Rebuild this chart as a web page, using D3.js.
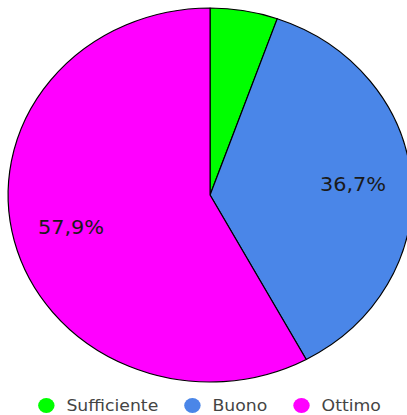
<!DOCTYPE html>
<html>
<head>
<meta charset="utf-8">
<script src="https://cdn.jsdelivr.net/npm/d3@7"></script>
<style>
  html, body { margin: 0; padding: 0; background: #fff; overflow: hidden; }
  svg { display: block; }
</style>
</head>
<body>
<svg id="chart" width="407" height="415"></svg>
<script>
const categories = ["Sufficiente", "Buono", "Ottimo"];
const values = [5.4, 36.7, 57.9];
const colors = ["#00ff00", "#4a86e8", "#ff00ff"];

const W = 407, H = 415;
const sx = 1.08;              // horizontal stretch of the original drawing
const IW = W / sx;            // internal width
const cx = 194.5, cy = 195, r = 187;

const svg = d3.select("#chart")
  .attr("viewBox", `0 0 ${IW} ${H}`)
  .attr("preserveAspectRatio", "none");

const data = categories.map((c, i) => ({ name: c, value: values[i], color: colors[i] }));
const pie = d3.pie().sort(null).value(d => d.value);
const arcs = pie(data);
const arc = d3.arc().innerRadius(0).outerRadius(r);
const labelArc = d3.arc().innerRadius(r * 0.71).outerRadius(r * 0.71);
const total = d3.sum(values);
const fmt = v => (v).toFixed(1).replace(".", ",") + "%";

const g = svg.append("g").attr("transform", `translate(${cx},${cy})`);
g.selectAll("path.slice").data(arcs).enter().append("path")
  .attr("class", "slice")
  .attr("d", arc)
  .attr("fill", d => d.data.color)
  .attr("stroke", "#000")
  .attr("stroke-width", 1.1)
  .attr("stroke-linejoin", "round");

g.selectAll("text.lbl").data(arcs.filter(d => d.data.value / total >= 0.1)).enter().append("text")
  .attr("class", "lbl")
  .attr("transform", d => `translate(${labelArc.centroid(d)})`)
  .attr("text-anchor", "middle")
  .attr("dominant-baseline", "central")
  .style("font-family", "'DejaVu Sans', Verdana, sans-serif")
  .style("font-size", "19.3px")
  .attr("fill", "#1a1a1a")
  .text(d => fmt(d.data.value / total * 100));

// legend
const legend = svg.append("g");
const fontSize = 16, cr = 7.6, gapText = 11, gapItem = 24;
const items = legend.selectAll("g.item").data(data).enter().append("g").attr("class", "item");
items.append("circle").attr("r", cr).attr("fill", d => d.color).attr("cy", 0);
items.append("text")
  .attr("x", cr + gapText)
  .attr("dominant-baseline", "central")
  .style("font-family", "'DejaVu Sans', Verdana, sans-serif")
  .style("font-size", fontSize + "px")
  .attr("fill", "#444")
  .text(d => d.name);
let x = 0;
const offsets = [];
items.each(function () {
  const tw = d3.select(this).select("text").node().getComputedTextLength();
  offsets.push(x + cr);
  x += cr * 2 + gapText + tw + gapItem;
});
const totalW = x - gapItem;
const startX = 194 - totalW / 2;
items.attr("transform", (d, i) => `translate(${startX + offsets[i]},${405.5})`);
</script>
</body>
</html>
